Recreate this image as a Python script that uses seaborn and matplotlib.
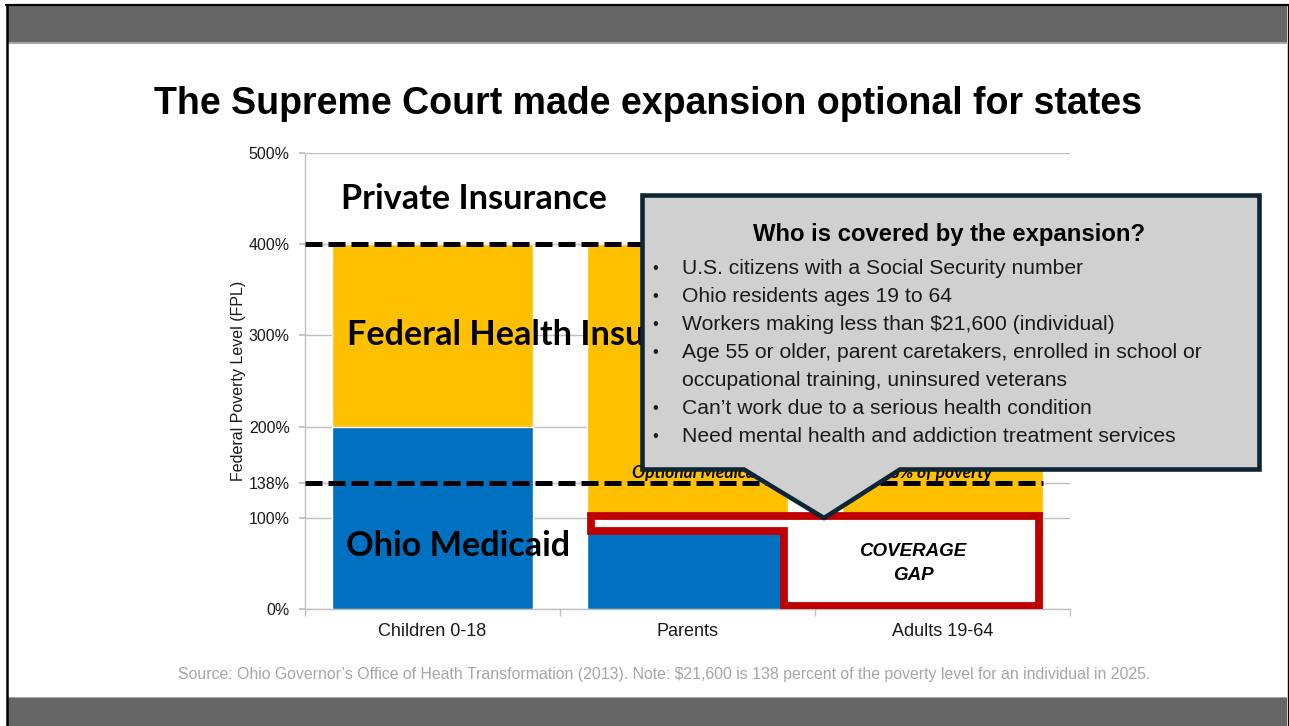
import matplotlib
matplotlib.use("Agg")
import matplotlib.pyplot as plt
import matplotlib.patches as mpatches
from matplotlib.lines import Line2D
import seaborn as sns

# -------------------------------
# DATA
# -------------------------------
groups = ["Children 0-18", "Parents", "Adults 19-64"]
medicaid = [200, 90, 0]          # Ohio Medicaid upper limit (% FPL)
federal_top = [400, 400, 400]    # federal marketplace subsidies up to
gap_top = 100                    # coverage gap upper limit
private_line = 400
expansion_line = 138
y_ticks = [0, 100, 138, 200, 300, 400, 500]
y_tick_labels = ["0%", "100%", "138%", "200%", "300%", "400%", "500%"]

callout_title = "Who is covered by the expansion?"
bullets = [
    ["U.S. citizens with a Social Security number"],
    ["Ohio residents ages 19 to 64"],
    ["Workers making less than $21,600 (individual)"],
    ["Age 55 or older, parent caretakers, enrolled in school or",
     "occupational training, uninsured veterans"],
    ["Can\u2019t work due to a serious health condition"],
    ["Need mental health and addiction treatment services"],
]

title = "The Supreme Court made expansion optional for states"
source = ("Source: Ohio Governor\u2019s Office of Heath Transformation (2013). "
          "Note: $21,600 is 138 percent of the poverty level for an individual in 2025.")

BLUE = "#0070c0"
YELLOW = "#ffc000"
RED = "#c00000"
GRID = "#bfbfbf"
BAND = "#666666"

W, H = 1289, 726
BAR_W = 0.79

sns.set_theme(style="white")
plt.rcParams["font.family"] = ["Liberation Sans", "DejaVu Sans"]


def fx(x):
    return x / W


def fy(y):
    return 1 - y / H


fig = plt.figure(figsize=(W / 100, H / 100), dpi=100)
fig.patch.set_facecolor("white")

# slide frame
fig.patches.append(mpatches.Rectangle((fx(8), fy(43)), fx(1279), 37 / H, transform=fig.transFigure,
                                      facecolor=BAND, edgecolor="none", zorder=0))
fig.patches.append(mpatches.Rectangle((fx(8), fy(44)), fx(1279), 1.5 / H, transform=fig.transFigure,
                                      facecolor="#a6a6a6", edgecolor="none", zorder=0))
fig.patches.append(mpatches.Rectangle((fx(8), 0), fx(1279), 29 / H, transform=fig.transFigure,
                                      facecolor=BAND, edgecolor="none", zorder=0))
fig.patches.append(mpatches.Rectangle((fx(8), fy(698)), fx(1279), 1.5 / H, transform=fig.transFigure,
                                      facecolor="#a6a6a6", edgecolor="none", zorder=0))
fig.lines.append(Line2D([fx(6), 1], [fy(5), fy(5)], transform=fig.transFigure, color="black", lw=1.6))
fig.lines.append(Line2D([fx(7), fx(7)], [0, fy(5)], transform=fig.transFigure, color="black", lw=1.8))
fig.lines.append(Line2D([fx(1287.5), fx(1287.5)], [0, fy(5)], transform=fig.transFigure, color="black", lw=1))

ax = fig.add_axes([fx(305), fy(609), 765 / W, 456 / H])

# stacked bars: marketplace behind, Medicaid in front
sns.barplot(x=groups, y=federal_top, color=YELLOW, saturation=1, width=BAR_W, ax=ax, zorder=2)
sns.barplot(x=groups, y=medicaid, color=BLUE, saturation=1, width=BAR_W, ax=ax, zorder=3)

ax.set_xlim(-0.5, 2.5)
ax.set_ylim(0, 500)
ax.set_yticks(y_ticks)
ax.set_yticklabels(y_tick_labels)
ax.yaxis.grid(True, color=GRID, lw=1)
ax.set_axisbelow(True)
for s in ["top", "right"]:
    ax.spines[s].set_visible(False)
for s in ["left", "bottom"]:
    ax.spines[s].set_color(GRID)
    ax.spines[s].set_linewidth(1)
ax.tick_params(axis="y", left=True, length=4, color=GRID, labelsize=11.5, pad=7, labelcolor="#1a1a1a")
ax.tick_params(axis="x", which="major", length=0, labelsize=13, pad=10, labelcolor="#1a1a1a")
ax.set_xticks([-0.5, 0.5, 1.5, 2.5], minor=True)
ax.tick_params(axis="x", which="minor", bottom=True, length=5, color=GRID)
ax.set_xlabel("")
ax.set_ylabel("Federal Poverty Level (FPL)", fontsize=11.5, color="#1a1a1a")
ax.yaxis.set_label_coords(-0.077, 0.5)

# dashed thresholds
x_end = 2 + BAR_W / 2
ax.hlines([private_line, expansion_line], -0.5, x_end, colors="black", lw=3.6,
          linestyles=[(0, (3.4, 1.2))], zorder=5, clip_on=False)

# coverage gap outline (parents above Medicaid limit, adults below 100%)
px = 4 / 255
parents_l = 1 - BAR_W / 2 + px
parents_r = 1 + BAR_W / 2 - px
adults_r = 2 + BAR_W / 2 - px
gap_poly = [(parents_l, gap_top + 1.5), (adults_r, gap_top + 1.5), (adults_r, medicaid[2] + 3.5),
            (parents_r, medicaid[2] + 3.5), (parents_r, medicaid[1] - 5), (parents_l, medicaid[1] - 5)]
ax.add_patch(mpatches.Polygon(gap_poly, closed=True, facecolor="white", edgecolor=RED,
                              lw=5.6, joinstyle="miter", zorder=6))
ax.text(1.884, 50, "COVERAGE\nGAP", ha="center", va="center", fontsize=13.5, fontweight="bold",
        fontstyle="italic", color="black", linespacing=1.5, zorder=7)

# region labels
lab = dict(family=["Lato", "DejaVu Sans"], fontweight="bold", fontsize=24.7, color="black", zorder=7)
ax.text(-0.359, 450, "Private Insurance", ha="left", va="center", **lab)
ax.text(-0.335, 300, "Federal Health Insurance", ha="left", va="center", **lab)
ax.text(-0.339, 69, "Ohio Medicaid", ha="left", va="center", **lab)
ax.text(1.49, 149, "Optional Medicaid expansion to 138% of poverty", ha="center", va="center",
        family=["Lato", "DejaVu Sans"], fontweight="bold", fontstyle="italic", fontsize=12.5,
        color="black", zorder=7)

# callout box
callout = [(642.5, 195.5), (1259.5, 195.5), (1259.5, 469.5), (900, 469.5), (824, 518),
           (744, 469.5), (642.5, 469.5)]
fig.patches.append(mpatches.Polygon([(fx(x), fy(y)) for x, y in callout], closed=True,
                                    transform=fig.transFigure, facecolor="#d0d0d0",
                                    edgecolor="#0e2535", lw=3.3, joinstyle="miter", zorder=5))
fig.text(fx(949.5), fy(234), callout_title, ha="center", va="center", fontsize=17.2,
         fontweight="bold", color="black", zorder=6)
line_y = 269
for item in bullets:
    fig.text(fx(655), fy(line_y), "\u2022", ha="center", va="center", fontsize=12, color="#1a1a1a", zorder=6)
    for ln in item:
        fig.text(fx(682), fy(line_y), ln, ha="left", va="center", fontsize=15.25, color="#1a1a1a", zorder=6)
        line_y += 27.9

# title and source
fig.text(fx(648.5), fy(104), title, ha="center", va="center", fontsize=27, fontweight="bold",
         color="black")
fig.text(fx(664.5), fy(675), source, ha="center", va="center", fontsize=11.4, color="#a6a6a6")

fig.savefig("out.png", dpi=100)
